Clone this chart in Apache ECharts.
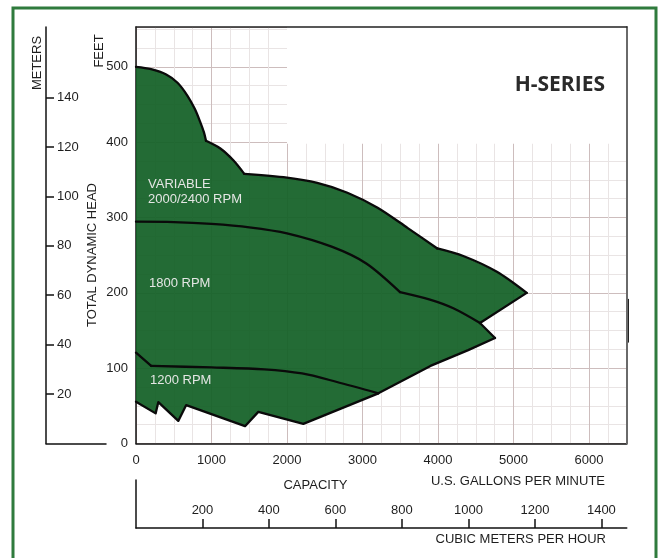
<!DOCTYPE html>
<html><head><meta charset="utf-8">
<script src="https://cdn.jsdelivr.net/npm/echarts@6/dist/echarts.min.js"></script>
<style>html,body{margin:0;padding:0;background:#fff}#c{width:659px;height:558px}</style>
</head><body><div id="c"></div>
<script>
// ---- data (GPM, feet) ----
// outer envelope, split at its corners
const envLobe1 = [[0,500],[200,497],[400,490],[550,479],[680,462],[780,444],[850,427],[900,413],[927,402]];
const envLobe2 = [[927,402],[1113,392],[1289,376],[1434,358]];
const envLobe3 = [[1434,358],[2000,353],[2400,346],[2800,333],[3200,313],[3600,286],[3991,259]];
const envLobe4 = [[3991,259],[4335,249],[4780,228],[5175,200]];
const envTip   = [[5175,200],[4556,160]];
// 1800 RPM curve
const rpm1800a = [[0,294.5],[500,294],[1000,291.5],[1500,287],[2000,279],[2600,261],[3050,239],[3497,201]];
const rpm1800b = [[3497,201],[3894,191],[4203,179.5],[4556,160]];
const rpm1800c = [[4556,160],[4755,140]];
// 1200 RPM curve
const rpm1200a = [[0,120.6],[201,103]];
const rpm1200b = [[201,103],[1000,101],[1700,98.5],[2200,93],[2650,82],[3210,66.6]];
// lower limit
const lowerBoundary = [[0,55.5],[260,40],[296,55],[560,30],[665,51],[1444,23],[1620,42],[2216,26],[3210,66.6],[3900,103],[4400,124],[4755,140]];

const regionLabels = [[159,333.5,'VARIABLE\n2000/2400 RPM'],[172,212,'1800 RPM'],[185,84,'1200 RPM']];
const gpmTicks = [0,1000,2000,3000,4000,5000,6000];
const feetTicks = [0,100,200,300,400,500];
const meterTicks = [20,40,60,80,100,120,140];
const cmhTicks = [200,400,600,800,1000,1200,1400];
const rightMark = [[6500,134],[6500,192]];

const GPM_MAX = 6500, FT_MAX = 553;
const FT_PER_M = 3.28084, GPM_PER_CMH = 4.40287;

const upperPath = envLobe1.concat(envLobe2.slice(1), envLobe3.slice(1), envLobe4.slice(1), envTip.slice(1), rpm1800c.slice(1));
const polygon = upperPath.concat(lowerBoundary.slice(0, -1).reverse());

const FONT = '"Liberation Sans", Arial, sans-serif';
const txt = '#1e1e1e';
const chart = echarts.init(document.getElementById('c'), null, {renderer:'canvas'});

const noAxis = {show:false};
function curve(data, smooth){
  return {type:'line', xAxisIndex:0, yAxisIndex:0, data:data, showSymbol:false, silent:true, z:4,
    smooth:smooth ? 0.3 : false,
    lineStyle:{color:'#0a0a0a', width:2.3, cap:'round', join:'round'}};
}
const lineSeries = [
  curve(envLobe1,true), curve(envLobe2,true), curve(envLobe3,true), curve(envLobe4,true), curve(envTip,false),
  curve(rpm1800a,true), curve(rpm1800b,true), curve(rpm1800c,false),
  curve(rpm1200a,false), curve(rpm1200b,true),
  curve(lowerBoundary,false)
];
lineSeries[0].markArea = {silent:true, itemStyle:{color:'#ffffff', opacity:1},
  data:[[{xAxis:2000, yAxis:398},{xAxis:GPM_MAX, yAxis:FT_MAX}]]};
lineSeries[0].markLine = {silent:true, symbol:'none', label:{show:false}, lineStyle:{color:'#222', width:3, type:'solid'},
  data:[[{coord:rightMark[0]},{coord:rightMark[1]}]]};

chart.setOption({
  animation:false,
  backgroundColor:'#ffffff',
  grid:[
    {left:136, top:27, width:490.75, height:416.5, show:false},
    {left:46, top:27, width:60, height:416.5, show:false},
    {left:136, top:480, width:490.75, height:48, show:false}
  ],
  xAxis:[
    {gridIndex:0, type:'value', min:0, max:GPM_MAX, interval:1000,
     axisLine:{show:true, onZero:false, lineStyle:{color:'#111', width:1.5}},
     axisTick:{show:false},
     axisLabel:{fontFamily:FONT, fontSize:13, color:txt, margin:10, showMaxLabel:false,
       formatter:v=>gpmTicks.includes(v)?String(v):''},
     splitLine:{show:true, lineStyle:{color:'#cdbdbd', width:1}},
     minorTick:{show:false, splitNumber:4},
     minorSplitLine:{show:true, lineStyle:{color:'#e9e4e4', width:1}}},
    {gridIndex:0, type:'value', position:'top', min:0, max:GPM_MAX, z:10,
     axisLine:{show:true, onZero:false, lineStyle:{color:'#222', width:1.5}},
     axisTick:noAxis, axisLabel:noAxis, splitLine:noAxis},
    {gridIndex:1, type:'value', min:0, max:1,
     axisLine:{show:true, onZero:false, lineStyle:{color:'#111', width:1.5}},
     axisTick:noAxis, axisLabel:noAxis, splitLine:noAxis},
    {gridIndex:2, type:'value', min:0, max:GPM_MAX/GPM_PER_CMH, interval:200,
     axisLine:{show:true, onZero:false, lineStyle:{color:'#111', width:1.5}},
     axisTick:{show:true, inside:true, length:9, customValues:cmhTicks, lineStyle:{color:'#111', width:1.5}},
     axisLabel:{inside:true, margin:11, fontFamily:FONT, fontSize:13, color:txt, customValues:cmhTicks,
       formatter:v=>String(v)},
     splitLine:noAxis}
  ],
  yAxis:[
    {gridIndex:0, type:'value', min:0, max:FT_MAX, interval:100,
     axisLine:{show:true, onZero:false, lineStyle:{color:'#111', width:1.5}},
     axisTick:{show:false},
     axisLabel:{fontFamily:FONT, fontSize:13, color:txt, margin:8, showMaxLabel:false,
       formatter:v=>feetTicks.includes(v)?String(v):''},
     splitLine:{show:true, lineStyle:{color:'#cdbdbd', width:1}},
     minorTick:{show:false, splitNumber:4},
     minorSplitLine:{show:true, lineStyle:{color:'#e9e4e4', width:1}}},
    {gridIndex:0, type:'value', position:'right', min:0, max:FT_MAX, z:10,
     axisLine:{show:true, onZero:false, lineStyle:{color:'#6a6a6a', width:2}},
     axisTick:noAxis, axisLabel:noAxis, splitLine:noAxis},
    {gridIndex:1, type:'value', position:'left', min:0, max:FT_MAX/FT_PER_M, interval:20,
     axisLine:{show:true, onZero:false, lineStyle:{color:'#111', width:1.5}},
     axisTick:{show:true, inside:true, length:8, customValues:meterTicks, lineStyle:{color:'#111', width:1.5}},
     axisLabel:{inside:true, margin:11, fontFamily:FONT, fontSize:13, color:txt, customValues:meterTicks,
       formatter:v=>String(v)},
     splitLine:noAxis},
    {gridIndex:2, type:'value', position:'left', min:0, max:1,
     axisLine:{show:true, onZero:false, lineStyle:{color:'#111', width:1.5}},
     axisTick:noAxis, axisLabel:noAxis, splitLine:noAxis}
  ],
  series:[
    {type:'custom', coordinateSystem:'cartesian2d', xAxisIndex:0, yAxisIndex:0, silent:true, z:2,
     data:[[0,0]],
     renderItem:(params, api)=>({type:'polygon',
       shape:{points:polygon.map(p=>api.coord(p))},
       style:{fill:'rgba(18,96,38,0.93)', stroke:null}})},
    ...lineSeries,
    {type:'custom', coordinateSystem:'cartesian2d', xAxisIndex:0, yAxisIndex:0, silent:true, z:5,
     data:regionLabels.map(r=>[r[0], r[1]]),
     renderItem:(params, api)=>{
       const p = api.coord([api.value(0), api.value(1)]);
       return {type:'text', x:p[0], y:p[1],
         style:{text:regionLabels[params.dataIndex][2], fill:'#e4e6e4', font:'13px '+FONT,
                align:'left', verticalAlign:'middle', lineHeight:15,
                textAlign:'left', textVerticalAlign:'middle'}};
     }},
    {type:'line', xAxisIndex:2, yAxisIndex:2, data:[]},
    {type:'line', xAxisIndex:3, yAxisIndex:3, data:[]}
  ],
  graphic:[
    {type:'rect', x:13, y:8, shape:{width:643, height:570}, style:{fill:null, stroke:'#2f7b3d', lineWidth:3}, z:100},
    {type:'text', x:37, y:63, rotation:Math.PI/2, style:{text:'METERS', font:'13px '+FONT, fill:txt, align:'center', verticalAlign:'middle', textAlign:'center', textVerticalAlign:'middle'}},
    {type:'text', x:99, y:51, rotation:Math.PI/2, style:{text:'FEET', font:'13px '+FONT, fill:txt, align:'center', verticalAlign:'middle', textAlign:'center', textVerticalAlign:'middle'}},
    {type:'text', x:92.5, y:255, rotation:Math.PI/2, style:{text:'TOTAL DYNAMIC HEAD', font:'13px '+FONT, fill:txt, align:'center', verticalAlign:'middle', textAlign:'center', textVerticalAlign:'middle'}},
    {type:'text', x:605, y:85, z:50, style:{text:'H-SERIES', font:'bold 21px "Open Sans", sans-serif', fill:'#2a2a2a', align:'right', verticalAlign:'middle', textAlign:'right', textVerticalAlign:'middle'}},
    {type:'text', x:315.5, y:485, style:{text:'CAPACITY', font:'13px '+FONT, fill:txt, align:'center', verticalAlign:'middle', textAlign:'center', textVerticalAlign:'middle'}},
    {type:'text', x:605, y:481, style:{text:'U.S. GALLONS PER MINUTE', font:'13px '+FONT, fill:txt, align:'right', verticalAlign:'middle', textAlign:'right', textVerticalAlign:'middle'}},
    {type:'text', x:606, y:539, style:{text:'CUBIC METERS PER HOUR', font:'13px '+FONT, fill:txt, align:'right', verticalAlign:'middle', textAlign:'right', textVerticalAlign:'middle'}}
  ]
});
</script>
</body></html>
